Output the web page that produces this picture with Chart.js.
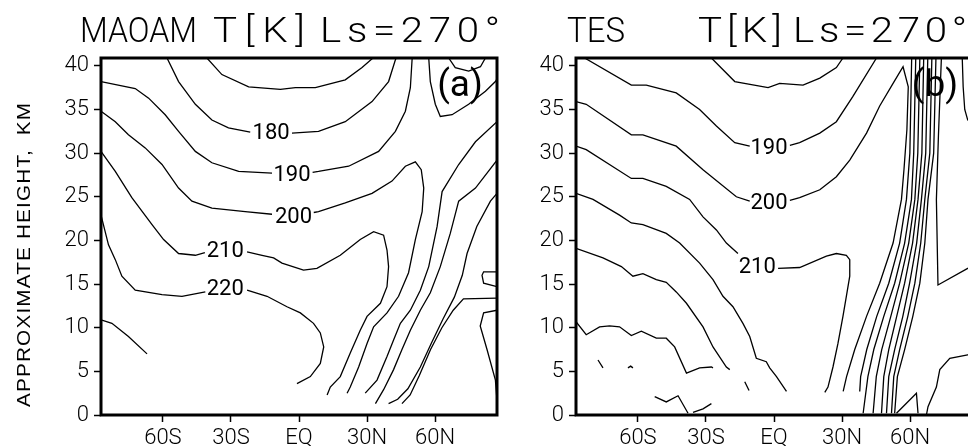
<!DOCTYPE html>
<html>
<head>
<meta charset="utf-8">
<script src="https://cdn.jsdelivr.net/npm/chart.js@4.4.1/dist/chart.umd.min.js"></script>
<style>
  html, body { margin: 0; padding: 0; background: #fff; overflow: hidden; width: 968px; height: 446px; }
  canvas { position: absolute; top: 0; }
  #panelA { left: 0; }
  #panelB { left: 475px; }
</style>
</head>
<body>
<canvas id="panelA" width="520" height="446"></canvas>
<canvas id="panelB" width="520" height="446"></canvas>
<script>
// axes
const latTicks = [-60, -30, 0, 30, 60];
const latLabels = ['60S', '30S', 'EQ', '30N', '60N'];
const kmTicks = [0, 5, 10, 15, 20, 25, 30, 35, 40];

// MAOAM contours, [lat, km]; null breaks the line where a label sits
const maoam170 = [[-40.6,40.9],[-34.0,39.0],[-22.2,37.6],[-8.2,37.3],[-1.6,37.5],[7.2,37.5],[20.4,38.4],[27.8,39.8],[32.6,40.9]];
const maoam180 = [[-58.2,40.9],[-53.1,38.2],[-45.7,35.6],[-38.4,33.8],[-31.1,32.9],[-21.5,32.4],null,[-3.1,32.3],[8.6,32.5],[20.4,33.6],[32.2,35.9],[39.5,38.2],[42.5,40.7],[43.0,40.9]];
const maoam190 = [[-87.3,38.2],[-72.2,37.4],[-66.3,36.3],[-59.0,34.4],[-53.1,32.5],[-45.7,30.2],[-38.4,28.9],[-26.6,27.9],[-11.9,27.7],null,[6.0,27.8],[8.6,27.9],[21.9,28.5],[35.1,30.2],[42.5,32.5],[46.9,34.8],[49.1,37.5],[49.9,40.9]];
const maoam200 = [[-87.3,34.8],[-81.0,33.6],[-75.2,32.1],[-67.8,30.6],[-60.4,28.7],[-53.1,26.0],[-47.2,24.5],[-38.4,23.7],[-23.7,23.3],[-11.9,23.0],null,[6.5,23.2],[8.6,23.3],[20.4,24.3],[32.2,25.4],[41.0,26.8],[46.9,28.5],[51.3,29.0],[53.9,28.1],[55.0,26.0],[54.3,23.3],[51.3,20.1],[48.3,16.3],[43.9,13.6],[38.8,11.7],[32.9,10.1],[30.0,8.2],[26.3,5.5],[22.6,3.2],[21.2,2.5]];
const maoam210 = [[-87.3,30.2],[-81.0,27.9],[-73.7,24.9],[-64.8,21.8],[-59.7,20.1],[-53.1,18.5],[-45.7,18.3],[-41.5,18.6],null,[-22.9,18.7],[-16.3,18.3],[-11.2,18.0],[-7.5,17.4],[2.0,16.6],[7.9,16.8],[18.2,18.3],[27.0,20.1],[32.9,21.0],[37.3,20.6],[38.8,18.9],[39.5,17.0],[38.8,14.7],[35.9,12.8],[30.0,11.3],[27.0,9.7],[22.6,7.1],[18.2,4.4],[13.8,3.2],[12.4,2.3]];
const maoam220 = [[-87.3,22.9],[-84.0,19.5],[-81.0,17.8],[-78.1,15.9],[-72.2,14.3],[-60.4,13.8],[-51.6,13.6],[-41.3,14.1],null,[-22.9,14.3],[-14.1,13.6],[-5.3,12.4],[0.6,11.7],[6.4,10.5],[9.4,9.4],[10.9,7.8],[9.4,5.9],[5.0,4.4],[-0.9,3.6]];
const maoam230 = [[-87.3,10.9],[-82.5,10.5],[-75.2,9.0],[-67.0,7.0]];
const maoam200n = [[57.2,40.9],[57.9,38.2],[60.1,35.6],[62.3,34.2],[67.5,34.4],[74.8,35.6],[82.2,37.1],[86.6,38.2],[87.3,38.5]];
const maoam210n = [[66.0,40.9],[68.9,39.8],[74.8,39.4],[80.0,39.9],[82.2,40.9]];
const maoam190n = [[87.3,33.6],[77.8,31.3],[70.4,28.7],[63.1,25.6],[60.9,21.6],[57.2,17.0],[53.5,14.3],[49.1,12.0],[44.7,10.5],[41.7,8.6],[38.8,6.7],[34.4,4.0],[29.2,2.5]];
const maoam180n = [[87.3,29.2],[77.8,26.0],[70.4,24.5],[66.7,20.8],[62.3,17.0],[57.9,14.0],[53.5,12.0],[49.1,9.7],[45.4,7.5],[41.7,5.2],[37.3,2.9],[33.7,1.3]];
const maoam170n = [[87.3,25.4],[84.4,24.5],[78.4,21.6],[74.1,18.5],[72.0,16.0],[68.5,13.5],[63.5,11.0],[58.5,8.3],[53.5,5.5],[48.0,3.0],[43.5,1.8],[39.5,1.3]];
const maoam160n = [[87.3,13.4],[72.5,13.3],[68.0,12.0],[63.0,10.0],[58.0,7.5],[53.0,4.5],[49.0,2.3],[45.4,1.3]];
const maoam160s = [[87.3,16.4],[81.4,16.4],[80.7,16.0],[81.4,15.1],[87.3,14.7]];
const maoam150n = [[87.3,12.0],[81.4,11.7],[79.9,10.2],[82.9,7.5],[86.6,4.0],[87.3,1.7]];
const maoamLabels = [[180,-12.3,32.4],[190,-3.1,27.5],[200,-2.4,22.7],[210,-32.5,18.9],[220,-32.5,14.5]];

// TES contours
const tes180 = [[-27.6,40.9],[-17.3,38.2],[-2.6,37.5],[2.5,38.0],[12.8,37.8],[20.2,38.6],[27.5,39.8],[30.4,40.9]];
const tes190 = [[-83.5,40.9],[-62.9,37.8],[-56.3,37.8],[-43.1,36.9],[-32.8,35.0],[-25.4,33.1],[-17.3,31.2],[-10.7,30.8],null,[7.0,30.9],[11.3,31.2],[20.2,32.3],[27.5,33.6],[34.8,36.5],[45.2,40.9]];
const tes200 = [[-87.3,35.9],[-82.8,35.6],[-62.9,32.1],[-57.8,32.1],[-43.1,30.8],[-31.3,28.1],[-16.6,25.0],[-10.7,24.5],null,[7.0,24.6],[11.3,24.9],[20.2,25.8],[27.5,27.3],[33.4,29.2],[40.8,32.3],[46.6,35.4],[52.5,38.0],[56.9,39.9],[59.2,37.6],[58.6,32.7],[57.3,28.1],[56.2,24.7],[52.5,19.7],[46.6,15.1],[40.8,11.3],[35.6,7.5],[32.0,4.4],[30.5,2.7]];
const tes210 = [[-87.3,30.8],[-82.8,30.4],[-62.9,27.1],[-57.8,27.1],[-47.5,26.2],[-37.2,24.7],[-31.3,22.7],[-25.4,21.2],[-21.0,19.7],[-15.9,18.5],null,[1.8,16.8],[11.3,16.9],[23.1,18.2],[27.5,18.5],[31.9,18.3],[33.4,17.8],[33.4,15.9],[31.9,13.6],[30.4,11.3],[28.2,8.2],[26.0,5.5],[23.8,3.2],[22.4,2.6]];
const tes220 = [[-87.3,25.4],[-79.8,24.7],[-68.1,22.9],[-62.9,22.0],[-57.8,21.8],[-47.5,20.8],[-41.6,19.7],[-32.8,17.4],[-26.9,15.5],[-22.5,13.6],[-18.1,12.4],[-13.7,10.5],[-10.7,9.0],[-7.8,6.5],[-3.4,6.1],[-1.9,5.4],[1.1,4.4],[5.5,2.7]];
const tes230 = [[-87.3,19.1],[-75.4,18.0],[-67.3,17.0],[-62.2,15.9],[-57.8,16.2],[-51.9,15.5],[-47.5,15.2],[-43.1,14.1],[-38.6,12.8],[-31.3,10.1],[-26.9,7.8],[-21.0,5.5],[-19.5,5.2]];
const tes240 = [[-87.3,10.7],[-82.8,9.2],[-76.9,10.1],[-72.5,10.2],[-68.1,10.1],[-62.9,9.1],[-58.5,9.6],[-51.9,8.8],[-47.5,8.8],[-43.8,7.8],[-38.6,4.8],[-32.8,5.4],[-27.6,5.5],[-26.9,5.4]];
const tes250 = [[-77.6,6.3],[-75.4,5.4],null,[-64.4,5.4],[-63.2,5.6],[-62.2,5.4],null,[-12.9,3.8],[-11.0,2.8],null,[-52.6,2.1],[-47.5,1.5],[-42.3,2.2],[-37.9,0.2],null,[-35.7,0.3],[-31.3,0.7],[-27.6,1.3]];
const tes190n = [[60.7,40.9],[59.9,30.0],[58.4,24.7],[55.4,19.7],[50.6,15.1],[45.3,11.3],[40.9,7.5],[38.2,4.4],[37.8,2.7]];
const tes180n = [[62.5,40.9],[61.6,30.0],[60.6,24.7],[57.6,19.7],[53.2,15.1],[48.4,11.3],[44.0,7.5],[41.4,4.4],[39.3,0.2]];
const tes170n = [[64.3,40.9],[63.4,30.0],[62.1,24.7],[59.4,19.7],[55.4,15.1],[51.5,11.3],[47.5,7.5],[45.1,4.4],[43.7,0.2]];
const tes160n = [[66.0,40.9],[65.2,30.0],[63.5,24.7],[61.1,19.7],[57.6,15.1],[54.1,11.3],[50.6,7.5],[48.4,4.4],[47.4,0.2]];
const tes150n = [[67.8,40.9],[66.9,30.0],[65.0,24.7],[62.9,19.7],[59.8,15.1],[56.8,11.3],[53.2,7.5],[50.6,4.4],[49.6,0.2]];
const tes140n = [[69.6,40.9],[68.7,30.0],[66.5,24.7],[64.7,19.7],[62.1,15.1],[59.0,11.3],[55.4,7.5],[52.8,4.4],[51.8,0.2]];
const tes130n = [[71.4,40.9],[70.4,30.0],[67.9,24.7],[66.5,19.7],[64.3,15.1],[61.2,11.3],[57.6,7.5],[54.4,4.4],[53.2,0.2]];
const tes120n = [[73.8,40.9],[72.5,32.0],[71.6,24.7],[72.3,14.9],[85.4,16.8],[87.3,17.1]];
const tes140p = [[87.3,7.0],[85.4,6.9],[77.5,6.5],[73.1,5.2],[71.6,3.2],[67.9,0.95],[67.2,0.0]];
const tes150p = [[54.0,0.2],[62.8,2.5],[63.5,0.2]];
const tes200p = [[83.0,40.9],[83.4,37.6],[84.1,35.0],[85.4,33.8],[87.3,33.4]];
const tesLabels = [[190,-2.2,30.6],[200,-2.2,24.3],[210,-7.4,17.0]];

const maoamLines = [maoam170, maoam180, maoam190, maoam200, maoam210, maoam220, maoam230,
  maoam200n, maoam210n, maoam190n, maoam180n, maoam170n, maoam160n, maoam160s, maoam150n];
const tesLines = [tes180, tes190, tes200, tes210, tes220, tes230, tes240, tes250,
  tes190n, tes180n, tes170n, tes160n, tes150n, tes140n, tes130n, tes120n, tes140p, tes150p, tes200p];

const FONT = 'Roboto, "Liberation Sans", sans-serif';

function toDatasets(lines) {
  return lines.map(line => ({
    data: line.map(p => p ? { x: p[0], y: p[1] } : { x: null, y: null }),
    showLine: true,
    borderColor: '#000',
    borderWidth: 1.3,
    pointRadius: 0,
    tension: 0,
    spanGaps: false
  }));
}

// fit a word to a width: widen glyphs a little, then spread the rest
function fitText(ctx, t, x, y, w, maxScale) {
  const m = ctx.measureText(t).width;
  const s = Math.min(w / m, maxScale);
  ctx.save();
  ctx.translate(x, y);
  ctx.scale(s, 1);
  if ('letterSpacing' in ctx && t.length > 1 && w / s > m) {
    ctx.letterSpacing = ((w / s - m) / (t.length - 1)) + 'px';
  }
  ctx.fillText(t, 0, 0);
  ctx.restore();
}

// labels, box, titles
const decor = {
  id: 'decor',
  afterDatasetsDraw(chart, args, opts) {
    const { ctx, chartArea: a, scales: { x, y } } = chart;
    ctx.save();
    ctx.fillStyle = '#000';
    ctx.strokeStyle = '#000';

    ctx.font = '400 22px ' + FONT;
    ctx.textAlign = 'center';
    ctx.textBaseline = 'middle';
    opts.labels.forEach(([v, lat, km]) => {
      ctx.fillText(String(v), x.getPixelForValue(lat), y.getPixelForValue(km) + 1);
    });

    ctx.font = '400 37px ' + FONT;
    ctx.fillText(opts.tag, opts.tagX, opts.tagY);

    ctx.lineWidth = 3;
    ctx.strokeRect(a.left, a.top, a.right - a.left, a.bottom - a.top);

    ctx.textAlign = 'left';
    ctx.textBaseline = 'alphabetic';
    ctx.font = '300 35px ' + FONT;
    opts.words.forEach(w => fitText(ctx, w.t, w.x, 42, w.w, 1.15));

    if (opts.yTitle) {
      ctx.font = '18px "Liberation Sans", Arial, sans-serif';
      ctx.save();
      ctx.translate(30, 407);
      ctx.rotate(-Math.PI / 2);
      fitText(ctx, opts.yTitle, 0, 0, 304, 1.15);
      ctx.restore();
    }
    ctx.restore();
  }
};

function makeChart(id, lines, labels, tag, words, yTitle) {
  const tickFont = { family: FONT, size: 22, weight: 300 };
  return new Chart(document.getElementById(id), {
    type: 'scatter',
    data: { datasets: toDatasets(lines) },
    options: {
      responsive: false,
      animation: false,
      devicePixelRatio: 1,
      layout: { padding: { left: 0, top: 58, right: 23, bottom: 0 } },
      plugins: {
        legend: { display: false },
        tooltip: { enabled: false },
        decor: { labels: labels, tag: tag.t, tagX: tag.x, tagY: tag.y, words: words, yTitle: yTitle }
      },
      scales: {
        x: {
          type: 'linear', min: -87.3, max: 87.3,
          afterBuildTicks: s => { s.ticks = latTicks.map(v => ({ value: v })); },
          afterFit: s => { s.height = 31; },
          ticks: { color: '#000', font: tickFont, padding: 3, maxRotation: 0,
                   callback: (v, i) => latLabels[i] },
          grid: { display: true, drawOnChartArea: false, drawTicks: true, tickLength: 7,
                  tickWidth: 1.5, color: '#000', tickColor: '#000' },
          border: { display: false }
        },
        y: {
          type: 'linear', min: 0, max: 40.9,
          afterBuildTicks: s => { s.ticks = kmTicks.map(v => ({ value: v })); },
          afterFit: s => { s.width = 101; },
          ticks: { color: '#000', font: tickFont, padding: 5, callback: v => String(v) },
          grid: { display: true, drawOnChartArea: false, drawTicks: true, tickLength: 7,
                  tickWidth: 1.5, color: '#000', tickColor: '#000' },
          border: { display: false }
        }
      }
    },
    plugins: [decor]
  });
}

makeChart('panelA', maoamLines, maoamLabels, { t: '(a)', x: 460, y: 87 },
  [{ t: 'MAOAM', x: 80, w: 117 }, { t: 'T[K]', x: 213, w: 92 }, { t: 'Ls=270°', x: 320, w: 180 }],
  'APPROXIMATE HEIGHT,  KM');
makeChart('panelB', tesLines, tesLabels, { t: '(b)', x: 460, y: 87 },
  [{ t: 'TES', x: 92, w: 58 }, { t: 'T[K]', x: 223, w: 84 }, { t: 'Ls=270°', x: 318, w: 174 }],
  null);
</script>
</body>
</html>
